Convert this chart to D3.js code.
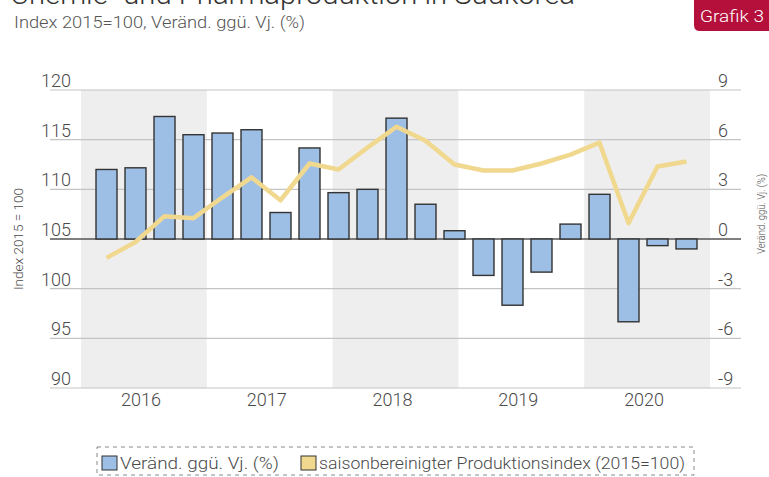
<!DOCTYPE html>
<html>
<head>
<meta charset="utf-8">
<script src="https://cdn.jsdelivr.net/npm/d3@7"></script>
<style>
  html, body { margin: 0; padding: 0; background: #fff; }
  svg { display: block; }
  text { font-family: "Roboto", "Liberation Sans", sans-serif; font-weight: 300; }
</style>
</head>
<body>
<svg id="chart" width="769" height="477"></svg>
<script>
// ---- data ----
const quarters = [
  "2016 Q1","2016 Q2","2016 Q3","2016 Q4",
  "2017 Q1","2017 Q2","2017 Q3","2017 Q4",
  "2018 Q1","2018 Q2","2018 Q3","2018 Q4",
  "2019 Q1","2019 Q2","2019 Q3","2019 Q4",
  "2020 Q1","2020 Q2","2020 Q3","2020 Q4",
  "2021 Q1"
];
const changePct = [4.2, 4.3, 7.4, 6.3, 6.4, 6.6, 1.6, 5.5, 2.8, 3.0, 7.3,
                   2.1, 0.5, -2.2, -4.0, -2.0, 0.9, 2.7, -5.0, -0.4, -0.6];
const prodIndex = [103.1, 104.7, 107.3, 107.1, 109.2, 111.2, 108.9, 112.6, 112.0, 114.2, 116.3,
                   114.9, 112.5, 111.9, 111.9, 112.6, 113.5, 114.7, 106.6, 112.3, 112.8];
const years = ["2016", "2017", "2018", "2019", "2020"];
const leftTicks = [90, 95, 100, 105, 110, 115, 120];
const rightTicks = [-9, -6, -3, 0, 3, 6, 9];

const title = "Chemie- und Pharmaproduktion in Südkorea";
const subtitle = "Index 2015=100, Veränd. ggü. Vj. (%)";
const badge = "Grafik 3";
const leftTitle = "Index 2015 = 100";
const rightTitle = "Veränd. ggü. Vj. (%)";
const legendItems = ["Veränd. ggü. Vj. (%)", "saisonbereinigter Produktionsindex (2015=100)"];

// ---- style ----
const barFill = "#9dbfe5", barStroke = "#333", lineColor = "#f1d88f";
const bandGray = "#eeeeee", gridColor = "#c4c4c4", zeroColor = "#555", textColor = "#4a4a4a";

const svg = d3.select("#chart");

const yLeft = d3.scaleLinear().domain([90, 120]).range([388, 90]);
const yRight = d3.scaleLinear().domain([-9, 9]).range([388, 90]);
const x = d3.scaleBand().domain(quarters).range([92, 701]).paddingInner(8 / 29).paddingOuter(4 / 29);
const xYear = d3.scaleBand().domain(years).range([81, 710]);

// year bands
svg.append("g").selectAll("rect").data(years).join("rect")
  .attr("x", d => xYear(d)).attr("y", 90)
  .attr("width", xYear.bandwidth()).attr("height", 298)
  .attr("fill", (d, i) => i % 2 === 0 ? bandGray : "none");

// gridlines
svg.append("g").selectAll("line").data(leftTicks).join("line")
  .attr("x1", 50).attr("x2", 741)
  .attr("y1", d => yLeft(d)).attr("y2", d => yLeft(d))
  .attr("stroke", d => d === 105 ? zeroColor : gridColor)
  .attr("stroke-width", d => d === 105 ? 1.3 : 1.2);

// left tick labels
svg.append("g").selectAll("text").data(leftTicks).join("text")
  .attr("x", 71).attr("y", d => yLeft(d) - 3)
  .attr("text-anchor", "end").attr("font-size", 18).attr("fill", textColor)
  .text(d => d);

// right tick labels
svg.append("g").selectAll("text").data(rightTicks).join("text")
  .attr("x", 718).attr("y", d => yRight(d) - 3)
  .attr("font-size", 18).attr("fill", textColor)
  .text(d => d);

// bars
svg.append("g").selectAll("rect").data(quarters).join("rect")
  .attr("x", d => x(d))
  .attr("y", (d, i) => yRight(Math.max(0, changePct[i])))
  .attr("width", x.bandwidth())
  .attr("height", (d, i) => Math.abs(yRight(changePct[i]) - yRight(0)))
  .attr("fill", barFill).attr("stroke", barStroke).attr("stroke-width", 1.4);

// line
const line = d3.line()
  .x((d, i) => x(quarters[i]) + x.bandwidth() / 2)
  .y(d => yLeft(d));
svg.append("path").datum(prodIndex)
  .attr("d", line).attr("fill", "none")
  .attr("stroke", lineColor).attr("stroke-width", 4.5)
  .attr("stroke-linejoin", "round");

// year labels
svg.append("g").selectAll("text").data(years).join("text")
  .attr("x", d => xYear(d) + xYear.bandwidth() / 2 - 3).attr("y", 406)
  .attr("text-anchor", "middle").attr("font-size", 18).attr("fill", textColor)
  .text(d => d);

// axis titles
svg.append("text")
  .attr("transform", "translate(23,239) rotate(-90)")
  .attr("text-anchor", "middle").attr("font-size", 12).attr("fill", textColor)
  .attr("textLength", 102).attr("lengthAdjust", "spacingAndGlyphs")
  .text(leftTitle);
svg.append("text")
  .attr("transform", "translate(765,214) rotate(-90)")
  .attr("text-anchor", "middle").attr("font-size", 10.5).attr("fill", textColor)
  .attr("textLength", 80).attr("lengthAdjust", "spacingAndGlyphs")
  .text(rightTitle);

// title & subtitle
svg.append("text").attr("x", 10).attr("y", 4)
  .attr("font-size", 28).attr("fill", "#333")
  .attr("textLength", 565).attr("lengthAdjust", "spacingAndGlyphs")
  .text(title);
svg.append("text").attr("x", 14).attr("y", 28)
  .attr("font-size", 17).attr("fill", "#555")
  .attr("textLength", 291).attr("lengthAdjust", "spacingAndGlyphs")
  .text(subtitle);

// badge
svg.append("path")
  .attr("d", "M694,-5 H769 V31 H700 Q694,31 694,25 Z")
  .attr("fill", "#b5103c");
svg.append("text").attr("x", 700).attr("y", 22)
  .attr("font-size", 17).attr("fill", "#fff")
  .attr("textLength", 64).attr("lengthAdjust", "spacingAndGlyphs")
  .text(badge);

// legend
const lg = svg.append("g");
lg.append("rect").attr("x", 97).attr("y", 447).attr("width", 597).attr("height", 28)
  .attr("fill", "none").attr("stroke", "#888").attr("stroke-dasharray", "4,4").attr("stroke-width", 1);
const legendX = [102, 301];
const legendW = [159, 366];
const legendColors = [barFill, lineColor];
legendItems.forEach((t, i) => {
  lg.append("rect").attr("x", legendX[i]).attr("y", 456).attr("width", 15).attr("height", 14)
    .attr("fill", legendColors[i]).attr("stroke", "#333").attr("stroke-width", 1);
  lg.append("text").attr("x", legendX[i] + 18).attr("y", 469)
    .attr("font-size", 17).attr("fill", textColor)
    .attr("textLength", legendW[i]).attr("lengthAdjust", "spacingAndGlyphs")
    .text(t);
});
</script>
</body>
</html>
